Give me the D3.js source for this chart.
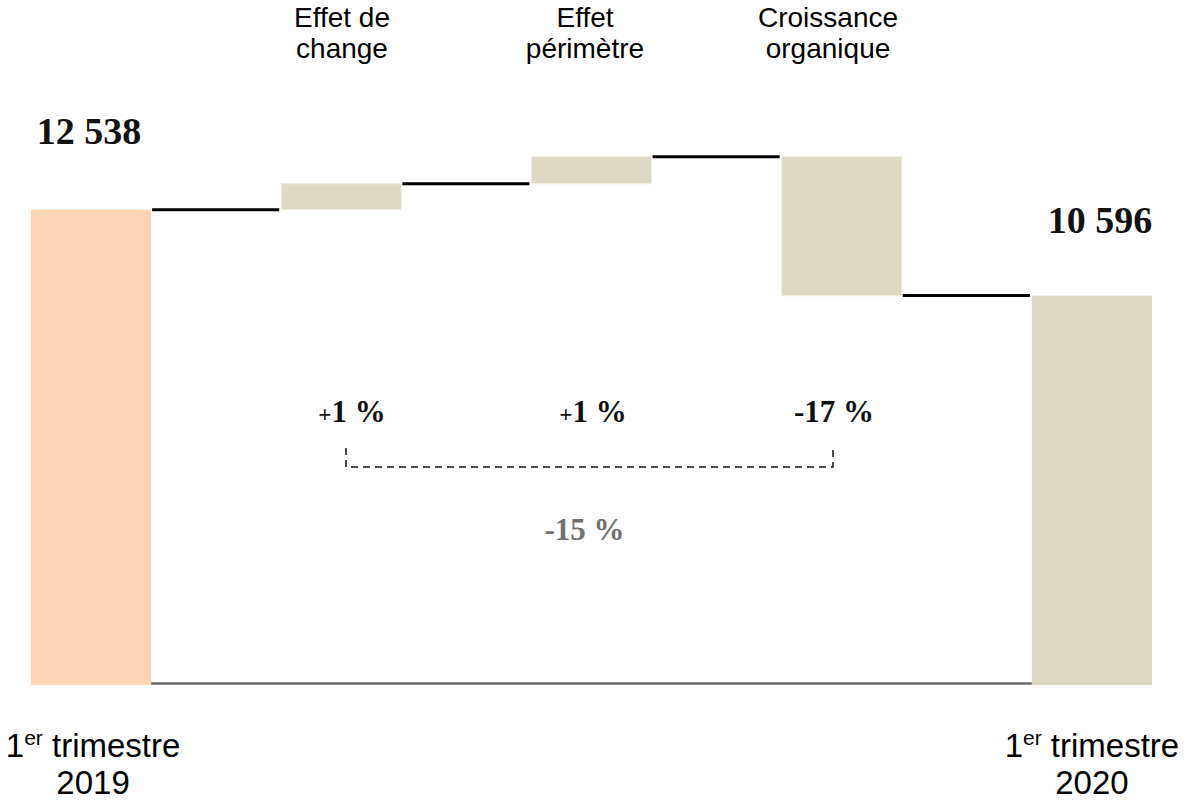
<!DOCTYPE html>
<html>
<head>
<meta charset="utf-8">
<script src="https://cdn.jsdelivr.net/npm/d3@7"></script>
<style>
  html, body { margin: 0; padding: 0; background: #ffffff; }
  svg { display: block; }
</style>
</head>
<body>
<svg id="chart" width="1184" height="802"></svg>
<script>
// ---- data ----
const categories = ["T1 2019", "Effet de change", "Effet périmètre", "Croissance organique", "T1 2020"];
const startValue = 12538;
const endValue = 10596;
const deltaCategories = ["Effet de change", "Effet périmètre", "Croissance organique"];
const deltaValues = [587, 610, -3139];           // bar heights as drawn (chart units)
const deltaLabels = ["+1 %", "+1 %", "-17 %"];
const totalChangeLabel = "-15 %";
const valueLabels = ["12 538", "10 596"];
const topLabels = [["Effet de", "change"], ["Effet", "périmètre"], ["Croissance", "organique"]];
const bottomLabels = [["1", "er", " trimestre", "2019"], ["1", "er", " trimestre", "2020"]];

// ---- build waterfall rows ----
const rows = [];
rows.push({ cat: categories[0], y0: 0, y1: startValue, total: true });
let run = startValue;
deltaValues.forEach((d, i) => {
  rows.push({ cat: deltaCategories[i], y0: run, y1: run + d, total: false });
  run += d;
});
rows.push({ cat: categories[4], y0: 0, y1: endValue, total: true });

const svg = d3.select("#chart");

const yFloor = 1800, yTop = 13750;
const y = d3.scaleLinear().domain([yFloor, yTop]).range([685, 156]);
const x = d3.scaleBand().domain(categories).range([31, 1152]).paddingInner(0.52).paddingOuter(0);
const bw = x.bandwidth();

const colStart = "#fbd5b6", colBar = "#ddd8c3";

// baseline
svg.append("line")
  .attr("x1", x(categories[0]) + bw).attr("x2", x(categories[4]))
  .attr("y1", y(yFloor) - 1.5).attr("y2", y(yFloor) - 1.5)
  .attr("stroke", "#666").attr("stroke-width", 2.5);

// bars
svg.selectAll("rect.bar").data(rows).enter().append("rect")
  .attr("class", "bar")
  .attr("x", d => x(d.cat))
  .attr("width", bw)
  .attr("y", d => d.total ? y(d.y1) : y(Math.max(d.y0, d.y1)))
  .attr("height", d => d.total ? y(yFloor) - y(d.y1) : Math.abs(y(d.y0) - y(d.y1)))
  .attr("fill", (d, i) => i === 0 ? colStart : colBar)
  .attr("stroke", (d, i) => (i === 0 || d.total) ? "none" : "#eeebe0")
  .attr("stroke-width", 1.2);

// connectors
for (let i = 0; i < rows.length - 1; i++) {
  const lvl = rows[i].y1;
  svg.append("line")
    .attr("x1", x(rows[i].cat) + bw + 1)
    .attr("x2", x(rows[i + 1].cat) - 2)
    .attr("y1", y(lvl)).attr("y2", y(lvl))
    .attr("stroke", "#000").attr("stroke-width", 3);
}

// value labels
const serif = "'Liberation Serif', 'Times New Roman', serif";
const sans = "'Liberation Sans', Arial, Helvetica, sans-serif";
[rows[0], rows[4]].forEach((d, i) => {
  svg.append("text")
    .attr("x", x(d.cat) + bw / 2 + (i === 0 ? -2 : 8))
    .attr("y", y(d.y1) - (i === 0 ? 66 : 63))
    .attr("text-anchor", "middle")
    .attr("font-family", serif).attr("font-weight", "bold")
    .attr("font-size", 38).attr("fill", "#111")
    .text(valueLabels[i]);
});

// top category labels
const topX = d3.scalePoint().domain(deltaCategories).range([342, 828]);
deltaCategories.forEach((c, i) => {
  const t = svg.append("text")
    .attr("text-anchor", "middle")
    .attr("font-family", sans).attr("font-size", 28).attr("fill", "#000");
  topLabels[i].forEach((line, j) => {
    t.append("tspan").attr("x", topX(c)).attr("y", 27 + j * 30.5).text(line);
  });
});

// percent labels
const pctX = d3.scalePoint().domain(deltaCategories).range([352, 834]);
deltaCategories.forEach((c, i) => {
  const lab = deltaLabels[i];
  const t = svg.append("text")
    .attr("x", pctX(c)).attr("y", 422)
    .attr("text-anchor", "middle")
    .attr("font-family", serif).attr("font-weight", "bold")
    .attr("font-size", 31).attr("fill", "#111");
  if (lab[0] === "+") {
    t.append("tspan").attr("font-size", 23).text("+");
    t.append("tspan").text(lab.slice(1));
  } else {
    t.text(lab);
  }
});

// dashed bracket
const bx1 = 346, bx2 = 833, byTop = 448, byBot = 467;
svg.append("path")
  .attr("d", `M${bx1},${byTop} V${byBot} H${bx2} V${byTop}`)
  .attr("fill", "none").attr("stroke", "#111").attr("stroke-width", 1.5)
  .attr("stroke-dasharray", "7,5");

svg.append("text")
  .attr("x", (bx1 + bx2) / 2 - 5).attr("y", 540)
  .attr("text-anchor", "middle")
  .attr("font-family", serif).attr("font-weight", "bold")
  .attr("font-size", 31).attr("fill", "#707070")
  .text(totalChangeLabel);

// bottom labels
[rows[0], rows[4]].forEach((d, i) => {
  const cx = x(d.cat) + bw / 2 + (i === 0 ? 2 : 0);
  const lab = bottomLabels[i];
  const t = svg.append("text")
    .attr("x", cx).attr("y", 757)
    .attr("text-anchor", "middle")
    .attr("font-family", sans).attr("font-size", 33).attr("fill", "#000");
  t.append("tspan").text(lab[0]);
  t.append("tspan").attr("font-size", 21).attr("dy", -12).text(lab[1]);
  t.append("tspan").attr("dy", 12).text(lab[2]);
  svg.append("text")
    .attr("x", cx).attr("y", 794)
    .attr("text-anchor", "middle")
    .attr("font-family", sans).attr("font-size", 33).attr("fill", "#000")
    .text(lab[3]);
});
</script>
</body>
</html>
